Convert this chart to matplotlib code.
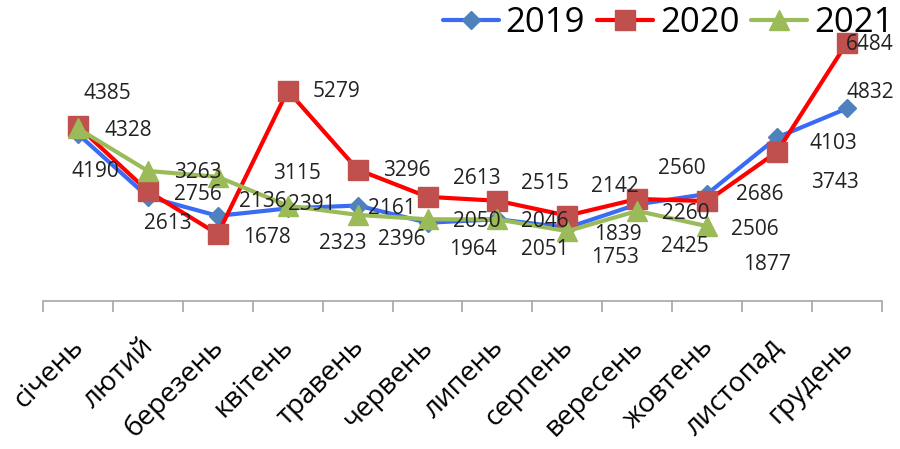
import matplotlib
matplotlib.use("Agg")
import matplotlib.pyplot as plt
import matplotlib.transforms as mtransforms
import numpy as np

months = ["січень", "лютий", "березень", "квітень", "травень", "червень",
          "липень", "серпень", "вересень", "жовтень", "листопад", "грудень"]
years = ["2019", "2020", "2021"]
v2019 = [4190, 2613, 2136, 2323, 2396, 1964, 2051, 1839, 2425, 2686, 4103, 4832]
v2020 = [4385, 2756, 1678, 5279, 3296, 2613, 2515, 2142, 2560, 2506, 3743, 6484]
v2021 = [4328, 3263, 3115, 2391, 2161, 2050, 2046, 1753, 2260, 1877]

# label offsets (pixels, dx right, dy down) - styling only
off2019 = [(17, 38), (20, 27), (45, -14), (55, 35), (44, 34), (45, 27), (47, 30),
           (51, 7), (48, 42), (53, 1), (56, 6), (23, -16)]
off2020 = [(29, -33), (50, 3), (49, 3), (49, 1), (49, 1), (49, -18), (47, -17),
           (48, -29), (45, -30), (48, 28), (58, 31), (23, 2)]
off2021 = [(50, 2), (50, 2), (79, -3), (24, -1), (34, -6), (49, 2), (47, 2),
           (48, 26), (48, 3), (60, 38)]

plt.rcParams['font.family'] = ['Open Sans', 'DejaVu Sans']

fig = plt.figure(figsize=(9, 4.49), dpi=100)
ax = fig.add_axes([43 / 900, (449 - 301) / 449, 839 / 900, 279 / 449])
ax.set_xlim(-0.5, 11.5)
ax.set_ylim(0, 7000)

series = [
    (v2019, '#3A6BF5', '#4F81BD', 'D', 9.5, off2019),
    (v2020, '#FF0000', '#C0504D', 's', 14, off2020),
    (v2021, '#9BBB59', '#9BBB59', '^', 14, off2021),
]
handles = []
for (vals, lc, mc, mk, ms, offs), yr in zip(series, years):
    x = np.arange(len(vals))
    h, = ax.plot(x, vals, color=lc, lw=3, marker=mk, markersize=ms,
                 markerfacecolor=mc, markeredgecolor=mc, label=yr,
                 solid_capstyle='round', clip_on=False)
    handles.append(h)
    for xi, v, (dx, dy) in zip(x, vals, offs):
        ax.annotate(str(v), (xi, v), xytext=(dx, -dy), textcoords='offset pixels',
                    ha='center', va='center', fontsize=15, color='#222222')

for s in ['left', 'right', 'top']:
    ax.spines[s].set_visible(False)
ax.spines['bottom'].set_color('#A6A6A6')
ax.spines['bottom'].set_linewidth(1.2)
ax.set_yticks([])
ax.set_xticks(np.arange(12))
ax.set_xticklabels(months, rotation=45, ha='right', va='center',
                   rotation_mode='anchor', fontsize=20)
ax.tick_params(axis='x', which='major', length=0, pad=30)
shift = mtransforms.ScaledTranslation(2 / 100, 0, fig.dpi_scale_trans)
for lab in ax.get_xticklabels():
    lab.set_transform(lab.get_transform() + shift)
ax.set_xticks(np.arange(-0.5, 12, 1), minor=True)
ax.tick_params(axis='x', which='minor', length=8, width=1.2, color='#A6A6A6')

fig.legend(handles=handles, loc='upper right', bbox_to_anchor=(1.012, 1.025),
           ncol=3, frameon=False, fontsize=25, handlelength=1.6,
           handletextpad=0.2, columnspacing=0.35, borderaxespad=0.1)

fig.savefig('out.png', dpi=100)
